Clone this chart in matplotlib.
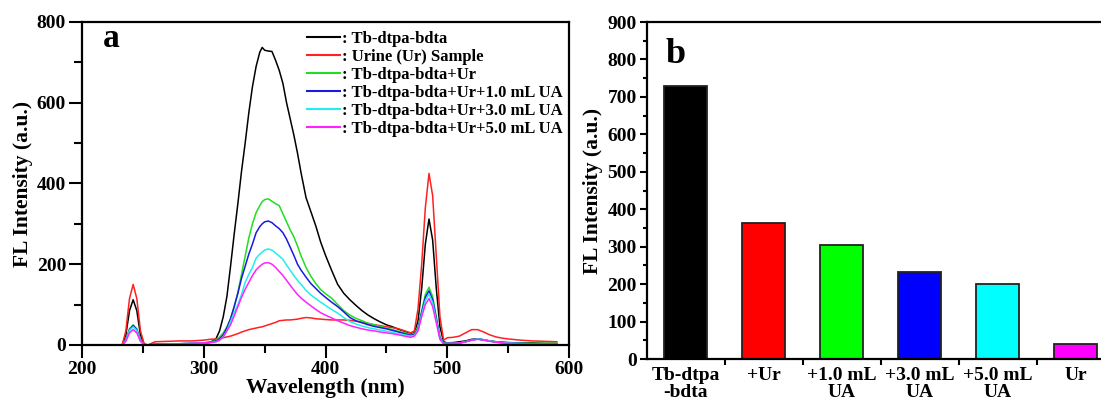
import matplotlib
matplotlib.use("Agg")
import matplotlib.pyplot as plt
from matplotlib.ticker import MultipleLocator, FixedLocator, NullFormatter

plt.rcParams['font.family'] = ['Liberation Serif', 'DejaVu Serif']
plt.rcParams['font.weight'] = 'bold'

# ---------------- data: panel a (spectra) ----------------
wavelength = [210, 225, 233, 236, 239, 242, 245, 248, 251, 254, 260, 270, 280, 290, 300, 305,
              310, 313, 316, 319, 322, 325, 328, 331, 334, 337, 340, 343, 346, 348, 350, 353,
              356, 359, 362, 365, 368, 371, 374, 377, 380, 384, 388, 392, 396, 400, 405, 410,
              415, 420, 425, 430, 435, 440, 445, 450, 455, 460, 465, 470, 473, 476, 479, 482,
              485, 488, 491, 494, 497, 500, 505, 510, 515, 520, 525, 530, 535, 540, 545, 550,
              560, 570, 580, 590]

tb = [0, 0, 0, 25, 85, 112, 85, 25, 2, 0, 2, 2, 3, 3, 4, 6,
      15, 35, 70, 120, 195, 275, 350, 430, 500, 575, 640, 690, 725, 737, 730, 728,
      727, 705, 680, 648, 600, 560, 520, 475, 425, 365, 330, 295, 255, 222, 185, 150,
      128, 112, 98, 85, 74, 65, 57, 50, 45, 39, 34, 28, 30, 60, 140, 250,
      312, 260, 140, 45, 8, 5, 6, 8, 10, 14, 15, 12, 10, 8, 7, 6,
      5, 5, 4, 4]

urine = [0, 0, 0, 35, 115, 150, 115, 35, 3, 0, 8, 9, 10, 10, 12, 14,
         15, 16, 18, 20, 22, 25, 28, 32, 35, 38, 40, 42, 44, 45, 47, 50,
         53, 56, 60, 61, 62, 62, 63, 64, 66, 68, 67, 65, 64, 63, 62, 62,
         62, 61, 59, 56, 53, 50, 48, 45, 43, 40, 35, 30, 35, 90, 200, 340,
         425, 370, 220, 70, 12, 18, 19, 22, 30, 38, 38, 32, 25, 20, 17, 15,
         12, 10, 9, 8]

tb_ur = [0, 0, 0, 12, 40, 50, 40, 12, 1, 0, 1, 2, 3, 4, 5, 7,
         12, 20, 30, 45, 65, 95, 130, 175, 220, 265, 300, 328, 345, 355, 360, 362,
         356, 350, 345, 325, 305, 285, 268, 245, 220, 192, 170, 152, 137, 127, 116, 100,
         85, 74, 66, 60, 54, 50, 46, 42, 38, 34, 30, 26, 28, 45, 85, 125,
         143, 120, 70, 20, 4, 4, 4, 5, 8, 12, 15, 13, 10, 8, 6, 5,
         4, 4, 4, 4]

tb_ur_1ua = [0, 0, 0, 12, 38, 48, 38, 12, 1, 0, 1, 2, 3, 4, 5, 7,
             10, 15, 25, 42, 65, 95, 128, 165, 195, 225, 250, 278, 293, 300, 305, 307,
             303, 295, 288, 278, 262, 242, 222, 200, 185, 168, 152, 140, 128, 118, 106, 95,
             82, 68, 60, 55, 50, 46, 43, 40, 36, 32, 28, 24, 26, 40, 80, 118,
             134, 112, 65, 18, 4, 4, 4, 5, 8, 12, 15, 13, 10, 7, 6, 5,
             4, 3, 3, 3]

tb_ur_3ua = [0, 0, 0, 11, 36, 45, 36, 11, 1, 0, 1, 2, 3, 4, 5, 6,
             8, 12, 20, 35, 58, 80, 100, 125, 155, 175, 192, 215, 225, 230, 235, 238,
             235, 228, 220, 212, 198, 185, 172, 160, 150, 135, 124, 115, 106, 98, 88, 79,
             68, 58, 52, 47, 43, 40, 37, 34, 31, 28, 25, 22, 24, 38, 75, 110,
             126, 105, 60, 16, 4, 4, 4, 5, 8, 12, 15, 13, 10, 7, 6, 5,
             4, 3, 3, 3]

tb_ur_5ua = [0, 0, 0, 9, 30, 38, 30, 9, 1, 0, 1, 2, 3, 4, 5, 6,
             8, 12, 20, 35, 50, 72, 95, 118, 138, 155, 172, 186, 195, 200, 203, 204,
             200, 192, 182, 172, 160, 148, 136, 125, 116, 106, 97, 88, 80, 74, 67, 60,
             54, 48, 44, 40, 37, 35, 32, 30, 28, 25, 22, 19, 22, 35, 70, 100,
             115, 95, 55, 14, 3, 4, 4, 5, 8, 12, 14, 12, 9, 7, 5, 4,
             3, 3, 3, 3]

series_labels = [': Tb-dtpa-bdta', ': Urine (Ur) Sample', ': Tb-dtpa-bdta+Ur',
                 ': Tb-dtpa-bdta+Ur+1.0 mL UA', ': Tb-dtpa-bdta+Ur+3.0 mL UA',
                 ': Tb-dtpa-bdta+Ur+5.0 mL UA']
series_colors = ['#000000', '#ff2020', '#22dd22', '#1a1ae0', '#22eeee', '#ff22ff']

# ---------------- data: panel b (bars) ----------------
bar_categories = ['Tb-dtpa\n-bdta', '+Ur', '+1.0 mL\nUA', '+3.0 mL\nUA', '+5.0 mL\nUA', 'Ur']
bar_values = [728, 362, 305, 232, 200, 41]
bar_colors = ['#000000', '#ff0000', '#00ff00', '#0000ff', '#00ffff', '#ff00ff']

# ---------------- figure ----------------
fig = plt.figure(figsize=(11.01, 4.01), dpi=100)

tick_fs = 14
label_fs = 15.5

# panel a
ax1 = fig.add_axes([0.0745, 0.1397, 0.4423, 0.8055])
all_series = [tb, urine, tb_ur, tb_ur_1ua, tb_ur_3ua, tb_ur_5ua]
for ys, lab, col in zip(all_series, series_labels, series_colors):
    ax1.plot(wavelength, ys, color=col, lw=1.1, label=lab)
ax1.set_xlim(200, 600)
ax1.set_ylim(0, 800)
ax1.xaxis.set_major_locator(MultipleLocator(100))
ax1.xaxis.set_minor_locator(MultipleLocator(50))
ax1.yaxis.set_major_locator(MultipleLocator(200))
ax1.yaxis.set_minor_locator(MultipleLocator(100))
ax1.tick_params(which='major', direction='out', length=9.5, width=1.5, labelsize=tick_fs, pad=2)
ax1.tick_params(which='minor', direction='out', length=5.5, width=1.5)
ax1.tick_params(top=False, right=False)
for sp in ax1.spines.values():
    sp.set_linewidth(1.6)
ax1.set_xlabel('Wavelength (nm)', fontsize=label_fs, fontweight='bold', labelpad=0)
ax1.set_ylabel('FL Intensity (a.u.)', fontsize=label_fs, fontweight='bold', labelpad=3)
ax1.text(0.043, 0.923, 'a', transform=ax1.transAxes, fontsize=24, fontweight='bold',
         va='baseline', ha='left')
leg = ax1.legend(loc='upper left', bbox_to_anchor=(0.461, 0.972), frameon=False,
                 prop={'size': 12, 'weight': 'bold'}, handlelength=2.0, handletextpad=0.1,
                 labelspacing=0.12, borderpad=0, borderaxespad=0)
for lh in leg.get_lines():
    lh.set_linewidth(1.5)

# panel b
ax2 = fig.add_axes([0.5872, 0.1047, 0.4251, 0.8404])
xpos = list(range(len(bar_values)))
ax2.bar(xpos, bar_values, width=0.55, color=bar_colors, edgecolor='#222222', linewidth=1.3)
ax2.set_xlim(-0.5, len(bar_values) - 0.5)
ax2.set_ylim(0, 900)
ax2.yaxis.set_major_locator(MultipleLocator(100))
ax2.yaxis.set_minor_locator(MultipleLocator(50))
ax2.xaxis.set_major_locator(FixedLocator([i + 0.5 for i in xpos[:-1]]))
ax2.xaxis.set_major_formatter(NullFormatter())
ax2.xaxis.set_minor_locator(FixedLocator(xpos))
ax2.set_xticklabels(bar_categories, minor=True)
ax2.tick_params(axis='x', which='minor', length=0, pad=6, labelsize=tick_fs)
for t in ax2.get_xticklabels(minor=True):
    t.set_fontweight('bold')
    t.set_linespacing(0.95)
ax2.tick_params(axis='x', which='major', direction='out', length=4, width=1.5)
ax2.tick_params(axis='y', which='major', direction='out', length=5, width=1.5,
                labelsize=tick_fs, pad=2)
ax2.tick_params(axis='y', which='minor', direction='out', length=3, width=1.5)
ax2.tick_params(top=False, right=False)
for sp in ax2.spines.values():
    sp.set_linewidth(1.6)
ax2.set_ylabel('FL Intensity (a.u.)', fontsize=label_fs, fontweight='bold', labelpad=3)
ax2.text(0.041, 0.878, 'b', transform=ax2.transAxes, fontsize=26, fontweight='bold',
         va='baseline', ha='left')

for ax in (ax1, ax2):
    for t in ax.get_xticklabels() + ax.get_yticklabels():
        t.set_fontweight('bold')

fig.savefig('out.png', dpi=100)
